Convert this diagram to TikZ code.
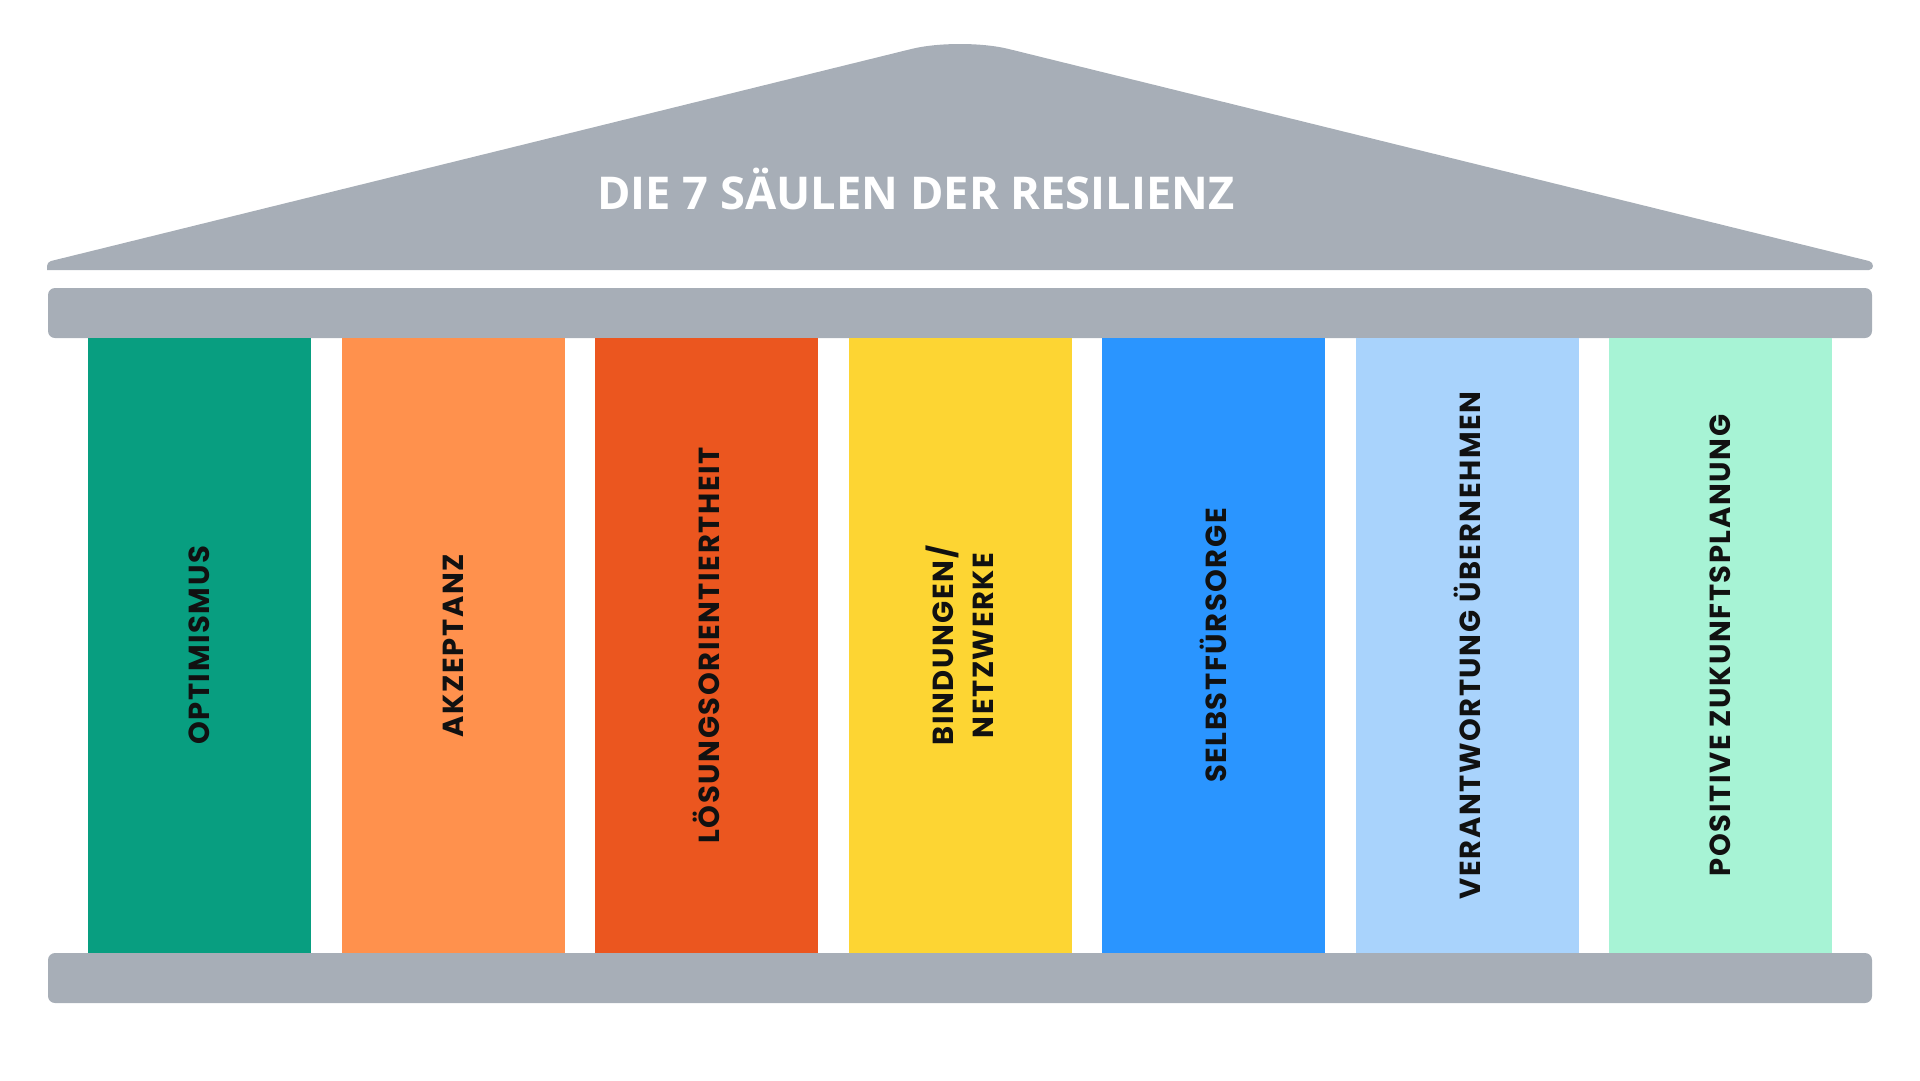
\documentclass[tikz,border=0pt]{standalone}
\usepackage{fontspec}
\setmainfont{Poppins}
\newfontfamily\titlefont{Open Sans}
\newfontfamily\pillarfont{Poppins}[LetterSpace=5.5]
\definecolor{greyc}{HTML}{A7AEB7}
\definecolor{cA}{HTML}{089E80}
\definecolor{cB}{HTML}{FF914D}
\definecolor{cC}{HTML}{EB561F}
\definecolor{cD}{HTML}{FDD533}
\definecolor{cE}{HTML}{2A95FF}
\definecolor{cF}{HTML}{A9D3FC}
\definecolor{cG}{HTML}{A7F3D5}
\definecolor{txt}{HTML}{111111}
\tikzset{
  pillar/.style={rotate=90, minimum width=615pt, minimum height=223pt, inner sep=0pt,
    align=center, text=txt, font=\pillarfont\bfseries\fontsize{29}{40}\selectfont},
  slab/.style={fill=greyc, rounded corners=7pt},
}
\begin{document}
\begin{tikzpicture}[x=1pt,y=-1pt]
\useasboundingbox (0,0) rectangle (1920,1080);
% roof
\fill[greyc] (47,270) [rounded corners=4pt] -- (47,262) [rounded corners=50pt] -- (960,37) [rounded corners=4pt] -- (1873,262) -- (1873,270) [sharp corners] -- cycle;
\node[text=white, inner sep=0pt] (title) at (916,189) {\resizebox{637pt}{!}{\titlefont\bfseries\fontsize{44}{50}\selectfont DIE 7 SÄULEN DER RESILIENZ}};
% beam and base
\fill[slab] (48,288) rectangle (1872,338);
\fill[slab] (48,953) rectangle (1872,1003);
% pillars
\node[pillar, fill=cA] (p1) at (199.5,645.5) {OPTIMISMUS};
\node[pillar, fill=cB] (p2) at (453,645.5) {AKZEPTANZ};
\node[pillar, fill=cC] (p3) at (706.5,645.5) {LÖSUNGSORIENTIERTHEIT};
\node[pillar, fill=cD] (p4) at (960,645.5) {BINDUNGEN/\\NETZWERKE};
\node[pillar, fill=cE] (p5) at (1213.5,645.5) {SELBSTFÜRSORGE};
\node[pillar, fill=cF] (p6) at (1467,645.5) {VERANTWORTUNG ÜBERNEHMEN};
\node[pillar, fill=cG] (p7) at (1720.5,645.5) {POSITIVE ZUKUNFTSPLANUNG};
\end{tikzpicture}
\end{document}
